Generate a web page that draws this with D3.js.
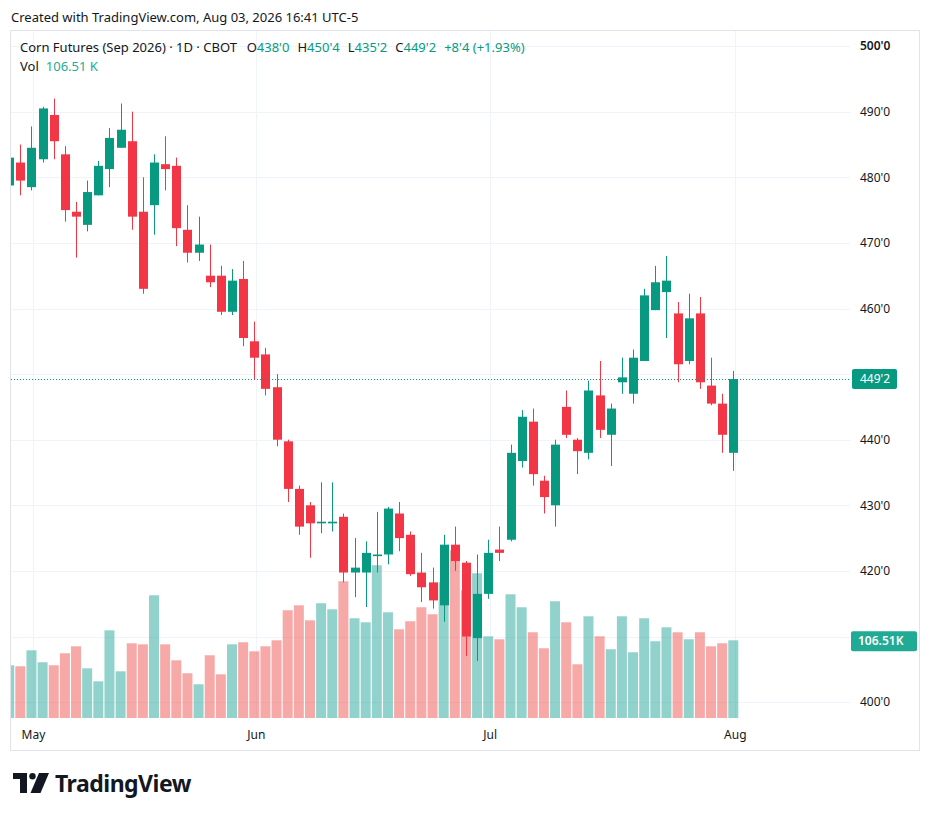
<!DOCTYPE html>
<html>
<head>
<meta charset="utf-8">
<script src="https://cdn.jsdelivr.net/npm/d3@7"></script>
<style>
  body { margin: 0; background: #ffffff; }
  svg text { font-family: "Noto Sans", "Open Sans", sans-serif; }
</style>
</head>
<body>
<script>
// trading days, Apr 29 - Aug 3 2026
const dates = [
  "2026-04-29","2026-04-30","2026-05-01","2026-05-04","2026-05-05","2026-05-06","2026-05-07","2026-05-08",
  "2026-05-11","2026-05-12","2026-05-13","2026-05-14","2026-05-15","2026-05-18","2026-05-19","2026-05-20",
  "2026-05-21","2026-05-22","2026-05-26","2026-05-27","2026-05-28","2026-05-29",
  "2026-06-01","2026-06-02","2026-06-03","2026-06-04","2026-06-05","2026-06-08","2026-06-09","2026-06-10",
  "2026-06-11","2026-06-12","2026-06-15","2026-06-16","2026-06-17","2026-06-18","2026-06-22","2026-06-23",
  "2026-06-24","2026-06-25","2026-06-26","2026-06-29","2026-06-30",
  "2026-07-01","2026-07-02","2026-07-06","2026-07-07","2026-07-08","2026-07-09","2026-07-10","2026-07-13",
  "2026-07-14","2026-07-15","2026-07-16","2026-07-17","2026-07-20","2026-07-21","2026-07-22","2026-07-23",
  "2026-07-24","2026-07-27","2026-07-28","2026-07-29","2026-07-30","2026-07-31",
  "2026-08-03"
];

const opens = [
  478.75, 482.25, 478.5, 482.75, 489.5, 483.5, 474.75, 472.75, 477.25, 481.25, 484.5, 485.5, 474.75, 475.75,
  482, 481.75, 472, 468.5, 465, 465, 459.5, 464.5, 455, 453, 448, 439.75, 432.5, 430, 427.25, 427.25,
  428.25, 419.75, 419.75, 422.25, 422.5, 428.75, 425.5, 419.75, 418.25, 414.75, 424, 421.25, 409.75, 416.5,
  423.25, 424.75, 436.75, 442.75, 433.75, 430, 445, 440, 438, 446.75, 440.75, 448.75, 447, 452,
  459.75, 462.5, 459.25, 452, 459.25, 448.25, 445.5, 438
];
const highs = [
  483.5, 485, 487.75, 490.75, 492, 484.75, 476.25, 479.5, 482.5, 487.5, 491.25, 490, 480, 483.5,
  486.25, 483, 475.75, 474, 469.75, 466.5, 466, 467.25, 458, 454, 450, 440, 433, 430.5, 433.5, 433.5,
  428.75, 425, 424.5, 429, 429.75, 430.5, 426, 422.75, 420.5, 425.5, 426.75, 421.5, 422.5, 424.75,
  426.75, 439.25, 444.5, 444.75, 434.5, 440, 447.5, 440.25, 449, 452, 445.5, 452.5, 453.75, 463,
  466.5, 468, 461, 462.25, 461.75, 452.5, 447, 450.5
];
const lows = [
  478.5, 477.25, 478, 482.25, 482.75, 473.25, 467.75, 471.75, 477.25, 478.5, 484.5, 472, 462.25, 471.25,
  478, 469.5, 467, 467.25, 463.25, 459, 459, 454.25, 449.25, 446.75, 439, 430.5, 425.5, 422, 425.75, 426,
  418.25, 416, 414.5, 419.75, 421, 423, 419.25, 415.25, 414.25, 412.25, 420, 407, 406.25, 415.75,
  421.5, 424.5, 435.75, 433, 428.75, 426.75, 440.25, 434.75, 437, 440.25, 436, 447, 445.5, 452,
  459.75, 455.5, 448.75, 451.5, 447.75, 445.25, 438, 435.25
];
const closes = [
  483, 479.5, 484.5, 490.5, 485.5, 475, 474, 477.75, 481.75, 486, 487.25, 474, 463, 482.25,
  481.25, 472.25, 468.5, 469.75, 464, 459.5, 464.25, 455.5, 452.5, 447.75, 440, 432.5, 426.75, 427.25, 427.5, 427.5,
  419.75, 420.5, 422.75, 422.5, 429.5, 425, 419.5, 417.5, 415.5, 424, 421.5, 410, 416.5, 422.75,
  422.75, 438, 443.5, 434.75, 431.25, 439.25, 440.75, 438.25, 447.5, 441.5, 444.75, 449.5, 452.5, 462,
  464, 464.25, 451.5, 458.5, 448.75, 445.5, 440.75, 449.25
];
// volume in thousands of contracts
const volumes = [
  72.3, 70.9, 92.8, 76.4, 72.3, 88.7, 98.3, 68.1, 50.3, 120.2, 64.0, 102.4, 101.0, 168.2,
  101.0, 79.1, 61.3, 46.2, 86.0, 59.9, 101.0, 103.8, 91.4, 98.3, 106.5, 147.7, 154.5, 133.9, 157.3, 149.0,
  187.4, 136.7, 131.2, 209.4, 144.9, 121.6, 132.6, 151.8, 142.2, 186.0, 229.9, 175.1, 198.4, 112.0,
  107.9, 169.6, 151.8, 117.5, 95.6, 160.0, 131.2, 73.6, 139.4, 112.0, 94.2, 139.4, 90.1, 136.7,
  105.2, 124.3, 117.5, 107.9, 117.5, 98.3, 102.4, 106.51
];

const priceTicks = [400, 410, 420, 430, 440, 450, 460, 470, 480, 490, 500];

const symbolName = "Corn Futures (Sep 2026) · 1D · CBOT";
const createdText = "Created with TradingView.com, Aug 03, 2026 16:41 UTC-5";

class Candlechart {
  constructor(config) {
    this.width = config.width;
    this.height = config.height;
    this.pane = config.pane;
    this.upColor = "#089981";
    this.downColor = "#f23645";
    this.volUp = "rgba(38,166,154,0.5)";
    this.volDown = "rgba(239,83,80,0.5)";
    this.gridColor = "#f0f3fa";
    this.textColor = "#131722";

    this.init = this.init.bind(this);
    this.createGrid = this.createGrid.bind(this);
    this.createVolume = this.createVolume.bind(this);
    this.createCandles = this.createCandles.bind(this);
    this.createAxes = this.createAxes.bind(this);
    this.createLegend = this.createLegend.bind(this);
    this.createLogo = this.createLogo.bind(this);
  }

  fmt(p) {
    const whole = Math.floor(p);
    return whole + "'" + Math.round((p - whole) * 8);
  }

  init() {
    const parse = d3.timeParse("%Y-%m-%d");
    this.data = dates.map((d, i) => ({
      i: i,
      date: parse(d),
      open: opens[i], high: highs[i], low: lows[i], close: closes[i],
      volume: volumes[i]
    }));
    this.last = this.data[this.data.length - 1];
    this.prev = this.data[this.data.length - 2];

    this.x = d3.scaleLinear().domain([0, dates.length - 1]).range([9.2, 733.3]);
    this.y = d3.scaleLinear().domain([400, 500]).range([702.1, 46.1]);
    this.yVol = d3.scaleLinear().domain([0, 230]).range([this.pane.bottom, this.pane.bottom - 167.8]);

    this.svg = d3.select("body")
      .append("svg")
      .attr("width", this.width)
      .attr("height", this.height);

    this.svg.append("rect")
      .attr("width", this.width).attr("height", this.height)
      .attr("fill", "#ffffff");

    this.svg.append("defs").append("clipPath")
      .attr("id", "plot-clip")
      .append("rect")
      .attr("x", this.pane.left).attr("y", this.pane.top)
      .attr("width", this.pane.right - this.pane.left)
      .attr("height", this.pane.bottom - this.pane.top);

    // panel frame
    this.svg.append("rect")
      .attr("x", 10.5).attr("y", 30.5)
      .attr("width", 909).attr("height", 720)
      .attr("fill", "none")
      .attr("stroke", "#e0e3eb");

    this.gridWrapper = this.svg.append("g").classed("grid-wrapper", true);
    this.plotWrapper = this.svg.append("g").classed("plot-wrapper", true)
      .attr("clip-path", "url(#plot-clip)");
    this.axisWrapper = this.svg.append("g").classed("axis-wrapper", true);

    this.createGrid();
    this.createVolume();
    this.createCandles();
    this.createAxes();
    this.createLegend();
    this.createLogo();
  }

  createGrid() {
    const months = this.data.filter((d, i) => i > 0 && d.date.getMonth() !== this.data[i - 1].date.getMonth());
    this.months = months;

    this.gridWrapper.selectAll(".hgrid")
      .data(priceTicks)
      .enter()
      .append("line")
      .attr("class", "hgrid")
      .attr("x1", this.pane.left).attr("x2", this.pane.right)
      .attr("y1", d => Math.round(this.y(d)) + 0.5)
      .attr("y2", d => Math.round(this.y(d)) + 0.5)
      .style("stroke", this.gridColor)
      .style("stroke-width", "1px");

    this.gridWrapper.selectAll(".vgrid")
      .data(months)
      .enter()
      .append("line")
      .attr("class", "vgrid")
      .attr("x1", d => Math.round(this.x(d.i) + 1.4) + 0.5)
      .attr("x2", d => Math.round(this.x(d.i) + 1.4) + 0.5)
      .attr("y1", this.pane.top).attr("y2", this.pane.bottom)
      .style("stroke", this.gridColor)
      .style("stroke-width", "1px");
  }

  createVolume() {
    this.plotWrapper.append("g").classed("volume-wrapper", true)
      .selectAll("rect")
      .data(this.data)
      .enter()
      .append("rect")
      .attr("x", d => this.x(d.i) - 5)
      .attr("width", 10)
      .attr("y", d => this.yVol(d.volume))
      .attr("height", d => this.pane.bottom - this.yVol(d.volume))
      .attr("fill", d => d.close >= d.open ? this.volUp : this.volDown);
  }

  createCandles() {
    const candles = this.plotWrapper.append("g").classed("candles-wrapper", true)
      .selectAll("g")
      .data(this.data)
      .enter()
      .append("g")
      .attr("fill", d => d.close >= d.open ? this.upColor : this.downColor)
      .attr("stroke", d => d.close >= d.open ? this.upColor : this.downColor);

    candles.append("line")
      .attr("x1", d => Math.round(this.x(d.i)) + 0.5)
      .attr("x2", d => Math.round(this.x(d.i)) + 0.5)
      .attr("y1", d => this.y(d.high))
      .attr("y2", d => this.y(d.low))
      .style("stroke-width", "1px");

    candles.append("rect")
      .attr("x", d => Math.round(this.x(d.i)) - 4)
      .attr("width", 9)
      .attr("y", d => this.y(Math.max(d.open, d.close)))
      .attr("height", d => Math.max(1.5, Math.abs(this.y(d.open) - this.y(d.close))))
      .attr("stroke", "none");

    // last price line
    this.plotWrapper.append("line")
      .attr("x1", this.pane.left).attr("x2", this.pane.right)
      .attr("y1", Math.round(this.y(this.last.close)) + 0.5)
      .attr("y2", Math.round(this.y(this.last.close)) + 0.5)
      .style("stroke", this.upColor)
      .style("stroke-width", "1px")
      .style("stroke-dasharray", "1 2");
  }

  createAxes() {
    const py = this.y(this.last.close);
    const vy = this.yVol(this.last.volume);

    // price labels hidden behind the last price / last volume badges are left out
    const shown = priceTicks.filter(t => Math.abs(this.y(t) - py) > 12 && Math.abs(this.y(t) - vy) > 12);

    const yAxis = d3.axisRight(this.y)
      .tickValues(shown)
      .tickSize(0)
      .tickPadding(0)
      .tickFormat(d => this.fmt(d));

    const gy = this.axisWrapper.append("g")
      .attr("transform", "translate(860,0)")
      .call(yAxis);
    gy.select(".domain").remove();
    gy.selectAll("text")
      .attr("fill", this.textColor)
      .style("font-size", "12px")
      .style("font-weight", d => d === 500 ? 600 : 400);

    const xAxis = d3.axisBottom(this.x)
      .tickValues(this.months.map(d => d.i))
      .tickSize(0)
      .tickPadding(0)
      .tickFormat(i => d3.timeFormat("%b")(this.data[i].date));

    const gx = this.axisWrapper.append("g")
      .attr("transform", "translate(1.5,730)")
      .call(xAxis);
    gx.select(".domain").remove();
    gx.selectAll("text")
      .attr("fill", this.textColor)
      .style("font-size", "12px");

    // last price label
    this.axisWrapper.append("rect")
      .attr("x", 852).attr("y", py - 10)
      .attr("width", 45).attr("height", 20)
      .attr("rx", 2)
      .attr("fill", this.upColor);
    this.axisWrapper.append("text")
      .attr("x", 860).attr("y", py)
      .attr("dy", "0.35em")
      .attr("fill", "#ffffff")
      .style("font-size", "12px")
      .text(this.fmt(this.last.close));

    // last volume label
    this.axisWrapper.append("rect")
      .attr("x", 851).attr("y", vy - 9)
      .attr("width", 66).attr("height", 20)
      .attr("rx", 2)
      .attr("fill", "#22ab94");
    this.axisWrapper.append("text")
      .attr("x", 858).attr("y", vy + 1)
      .attr("dy", "0.35em")
      .attr("fill", "#ffffff")
      .style("font-size", "12px")
      .style("font-weight", 600)
      .text(d3.format(".2f")(this.last.volume) + "K");
  }

  createLegend() {
    this.svg.append("text")
      .attr("x", 11).attr("y", 22)
      .attr("fill", this.textColor)
      .style("font-size", "13px")
      .text(createdText);

    const change = this.last.close - this.prev.close;
    const pct = change / this.prev.close * 100;
    const items = [
      ["O", this.fmt(this.last.open)],
      ["H", this.fmt(this.last.high)],
      ["L", this.fmt(this.last.low)],
      ["C", this.fmt(this.last.close)]
    ];

    const line1 = this.svg.append("text")
      .attr("x", 20).attr("y", 52)
      .style("font-size", "13px");
    line1.append("tspan").attr("fill", this.textColor).text(symbolName);
    items.forEach((it, k) => {
      line1.append("tspan").attr("fill", this.textColor).attr("dx", k === 0 ? 10 : 8).text(it[0]);
      line1.append("tspan").attr("fill", this.upColor).text(it[1]);
    });
    line1.append("tspan").attr("fill", this.upColor).attr("dx", 8)
      .text("+" + this.fmt(change) + " (+" + d3.format(".2f")(pct) + "%)");

    const line2 = this.svg.append("text")
      .attr("x", 20).attr("y", 71)
      .style("font-size", "13px");
    line2.append("tspan").attr("fill", this.textColor).text("Vol");
    line2.append("tspan").attr("fill", "#22ab94").attr("dx", 7)
      .text(d3.format(".2f")(this.last.volume) + " K");
  }

  createLogo() {
    const logo = this.svg.append("g")
      .attr("transform", "translate(13,773)")
      .attr("fill", "#131722");
    logo.append("path").attr("d", "M0,0 H14 V20 H7 V6 H0 Z");
    logo.append("circle").attr("cx", 19.5).attr("cy", 3.2).attr("r", 3.2);
    logo.append("path").attr("d", "M26,0 H36 L27.5,20 H17.5 Z");
    logo.append("text")
      .attr("x", 42).attr("y", 19)
      .style("font-size", "23px")
      .style("font-weight", 700)
      .style("letter-spacing", "-0.5px")
      .text("TradingView");
  }
}

const chart = new Candlechart({
  width: 931,
  height: 818,
  pane: { left: 11, right: 850, top: 31, bottom: 718 }
});
chart.init();
</script>
</body>
</html>
